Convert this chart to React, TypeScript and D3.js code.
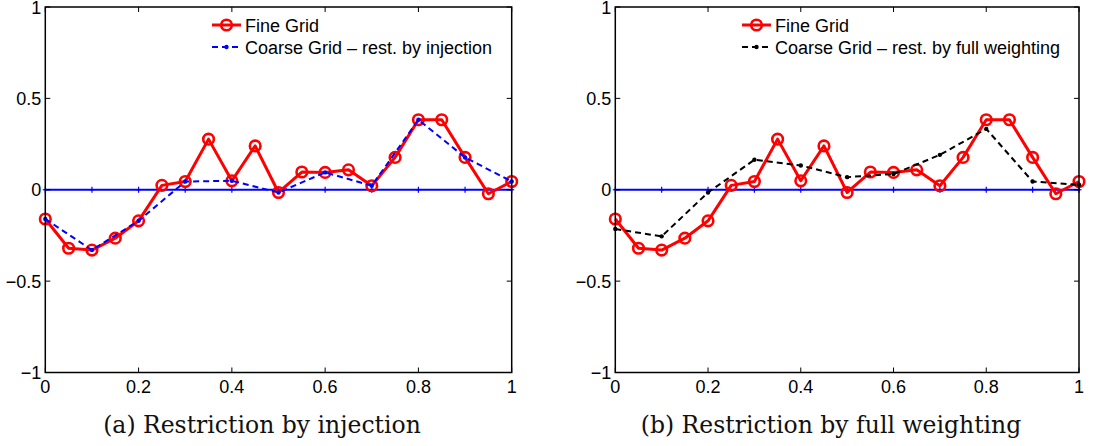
import React from "react";
import * as d3 from "d3";

const fineX = [0, 0.05, 0.1, 0.15, 0.2, 0.25, 0.3, 0.35, 0.4, 0.45, 0.5, 0.55, 0.6, 0.65, 0.7, 0.75, 0.8, 0.85, 0.9, 0.95, 1];
const fineY = [-0.16, -0.32, -0.33, -0.265, -0.17, 0.024, 0.045, 0.277, 0.049, 0.24, -0.015, 0.097, 0.095, 0.109, 0.022, 0.177, 0.383, 0.383, 0.177, -0.022, 0.045];
const coarseX = [0, 0.1, 0.2, 0.3, 0.4, 0.5, 0.6, 0.7, 0.8, 0.9, 1];
const injectionY = [-0.16, -0.33, -0.17, 0.045, 0.049, -0.015, 0.095, 0.022, 0.383, 0.177, 0.045];
const fullWeightY = [-0.215, -0.255, -0.015, 0.164, 0.133, 0.069, 0.086, 0.191, 0.333, 0.045, 0.027];
const zeroY = [0, 0, 0, 0, 0, 0, 0, 0, 0, 0, 0];
const xTicks = [0, 0.2, 0.4, 0.6, 0.8, 1];
const yTicks = [-1, -0.5, 0, 0.5, 1];

const fmt = (v: number) => (v < 0 ? "\u2212" + String(-v) : String(v));

type PanelProps = {
  left: number;
  right: number;
  coarseY: number[];
  coarseColor: string;
  coarseLabel: string;
  legendX: number;
  caption: string;
  captionX: number;
};

function Panel({ left, right, coarseY, coarseColor, coarseLabel, legendX, caption, captionX }: PanelProps) {
  const top = 7;
  const bottom = 372.5;
  const x = d3.scaleLinear().domain([0, 1]).range([left, right]);
  const y = d3.scaleLinear().domain([-1, 1]).range([bottom, top]);
  const mk = (xs: number[], ys: number[]) =>
    d3.line<number>().x((d) => x(d)).y((_, i) => y(ys[i]))(xs) || "";
  const font = "'Liberation Sans', Arial, sans-serif";
  return (
    <g>
      <path d={mk(coarseX, zeroY)} stroke="#0000ff" strokeWidth={2} fill="none" />
      {coarseX.map((v, i) => (
        <g key={"z" + i} stroke="#0000ff" strokeWidth={1.2}>
          <line x1={x(v) - 2.5} x2={x(v) + 2.5} y1={y(zeroY[i])} y2={y(zeroY[i])} />
          <line x1={x(v)} x2={x(v)} y1={y(zeroY[i]) - 3} y2={y(zeroY[i]) + 3} />
        </g>
      ))}
      <path d={mk(fineX, fineY)} stroke="#ff0000" strokeWidth={3} fill="none" strokeLinejoin="round" />
      {fineX.map((v, i) => (
        <circle key={"f" + i} cx={x(v)} cy={y(fineY[i])} r={5.3} fill="none" stroke="#ff0000" strokeWidth={2.6} />
      ))}
      <path d={mk(coarseX, coarseY)} stroke={coarseColor} strokeWidth={2} strokeDasharray="6,4" fill="none" />
      {coarseX.map((v, i) => (
        <circle key={"c" + i} cx={x(v)} cy={y(coarseY[i])} r={2.2} fill={coarseColor} />
      ))}
      <rect x={left} y={top} width={right - left} height={bottom - top} fill="none" stroke="#000" strokeWidth={1.5} />
      {xTicks.map((t) => (
        <g key={"xt" + t}>
          <line x1={x(t)} x2={x(t)} y1={bottom} y2={bottom - 5} stroke="#000" strokeWidth={1} />
          <line x1={x(t)} x2={x(t)} y1={top} y2={top + 5} stroke="#000" strokeWidth={1} />
          <text x={x(t)} y={393} textAnchor="middle" fontFamily={font} fontSize={18} fill="#000">
            {fmt(t)}
          </text>
        </g>
      ))}
      {yTicks.map((t) => (
        <g key={"yt" + t}>
          <line x1={left} x2={left + 5} y1={y(t)} y2={y(t)} stroke="#000" strokeWidth={1} />
          <line x1={right} x2={right - 5} y1={y(t)} y2={y(t)} stroke="#000" strokeWidth={1} />
          <text x={left - 4} y={y(t) + 6.5} textAnchor="end" fontFamily={font} fontSize={18} fill="#000">
            {fmt(t)}
          </text>
        </g>
      ))}
      <g>
        <line x1={legendX} x2={legendX + 29} y1={25} y2={25} stroke="#ff0000" strokeWidth={3} />
        <circle cx={legendX + 14.5} cy={25} r={5.3} fill="none" stroke="#ff0000" strokeWidth={2.6} />
        <text x={legendX + 33} y={31.5} fontFamily={font} fontSize={18} fill="#000">Fine Grid</text>
        <line x1={legendX} x2={legendX + 29} y1={47} y2={47} stroke={coarseColor} strokeWidth={2} strokeDasharray="6,4" />
        <circle cx={legendX + 14.5} cy={47} r={2.2} fill={coarseColor} />
        <text x={legendX + 33} y={53.5} fontFamily={font} fontSize={18} fill="#000">{coarseLabel}</text>
      </g>
      <text x={captionX} y={433} textAnchor="middle" fontFamily="'DejaVu Serif', 'Liberation Serif', serif" fontSize={23.5} fill="#111">
        {caption}
      </text>
    </g>
  );
}

export default function App() {
  return (
    <svg width={1093} height={446} style={{ position: "absolute", left: 0, top: 0, background: "#fff" }}>
      <rect width={1093} height={446} fill="#fff" />
      <Panel
        left={45.3}
        right={511.7}
        coarseY={injectionY}
        coarseColor="#0000ff"
        coarseLabel={"Coarse Grid \u2013 rest. by injection"}
        legendX={212}
        caption="(a) Restriction by injection"
        captionX={262}
      />
      <Panel
        left={615.3}
        right={1079}
        coarseY={fullWeightY}
        coarseColor="#000000"
        coarseLabel={"Coarse Grid \u2013 rest. by full weighting"}
        legendX={742}
        caption="(b) Restriction by full weighting"
        captionX={831}
      />
    </svg>
  );
}
